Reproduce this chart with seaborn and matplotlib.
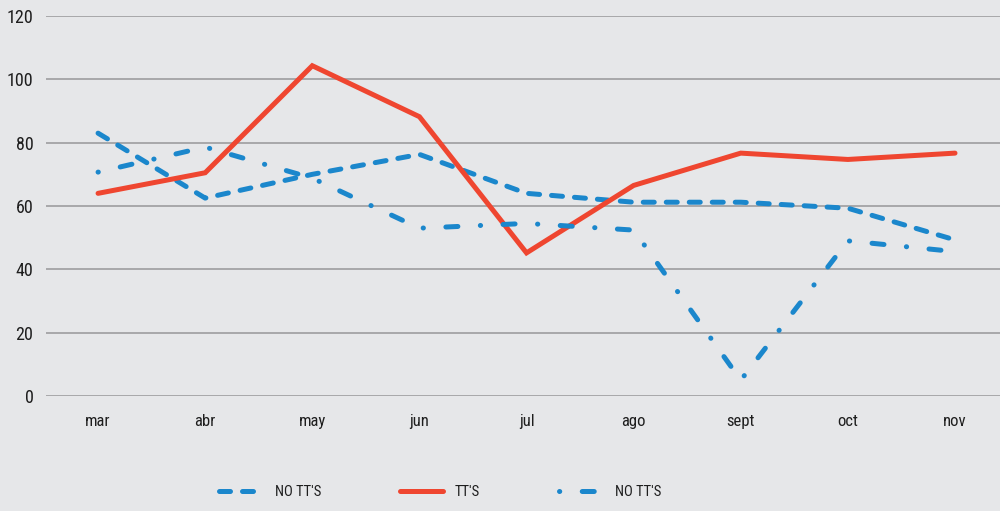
import matplotlib
matplotlib.use('Agg')
import matplotlib.pyplot as plt
import pandas as pd
import seaborn as sns

months = ['mar', 'abr', 'may', 'jun', 'jul', 'ago', 'sept', 'oct', 'nov']
no_tts_dashed = [83, 62.5, 70, 76.3, 64, 61.2, 61.2, 59.3, 49.3]
tts = [64, 70.5, 104.3, 88.2, 45.2, 66.5, 76.7, 74.7, 76.7]
no_tts_dashdot = [70.7, 78.6, 68.8, 53, 54.5, 52.4, 5, 49, 45.6]
y_ticks = [0, 20, 40, 60, 80, 100, 120]

blue = '#1b87cc'
red = '#ef4630'
bg = '#e6e7e9'

sns.set_theme(style='white')
plt.rcParams['font.family'] = ['Roboto Condensed', 'Roboto', 'DejaVu Sans']

df = pd.DataFrame({'month': months, 'a': no_tts_dashed, 'b': tts,
                   'c': no_tts_dashdot})

fig = plt.figure(figsize=(10, 5.11), dpi=100, facecolor=bg)
ax = fig.add_axes([0.046, 0.225, 0.954, 0.7437])
ax.set_facecolor(bg)

lw = 3.6
sns.lineplot(data=df, x='month', y='a', ax=ax, color=blue, lw=lw,
             linestyle=(0, (2.2, 2.4)), dash_capstyle='round',
             label="NO TT'S")
sns.lineplot(data=df, x='month', y='b', ax=ax, color=red, lw=lw,
             solid_capstyle='round', solid_joinstyle='miter', label="TT'S")
sns.lineplot(data=df, x='month', y='c', ax=ax, color=blue, lw=lw,
             linestyle=(6.9, (2.4, 4.5, 0.05, 4.5)), dash_capstyle='round',
             label="NO TT'S")

ax.set(xlabel='', ylabel='', xlim=(-0.486, 8.42), ylim=(0, 120))
ax.set_yticks(y_ticks)
ax.grid(axis='y', color='#a3a3a5', lw=1.3)
ax.grid(axis='x', visible=False)
for s in ax.spines.values():
    s.set_visible(False)
ax.tick_params(axis='y', length=0, pad=9, labelsize=13, colors='#1e1e1e')
ax.tick_params(axis='x', length=0, pad=13, labelsize=12, colors='#1e1e1e')

ax.legend(loc='upper center', bbox_to_anchor=(0.413, -0.2), ncol=3,
          frameon=False, fontsize=10.5, handlelength=3.0, handletextpad=0.8,
          columnspacing=5.4, labelcolor='#1e1e1e')

fig.savefig('out.png', dpi=100, facecolor=bg)
